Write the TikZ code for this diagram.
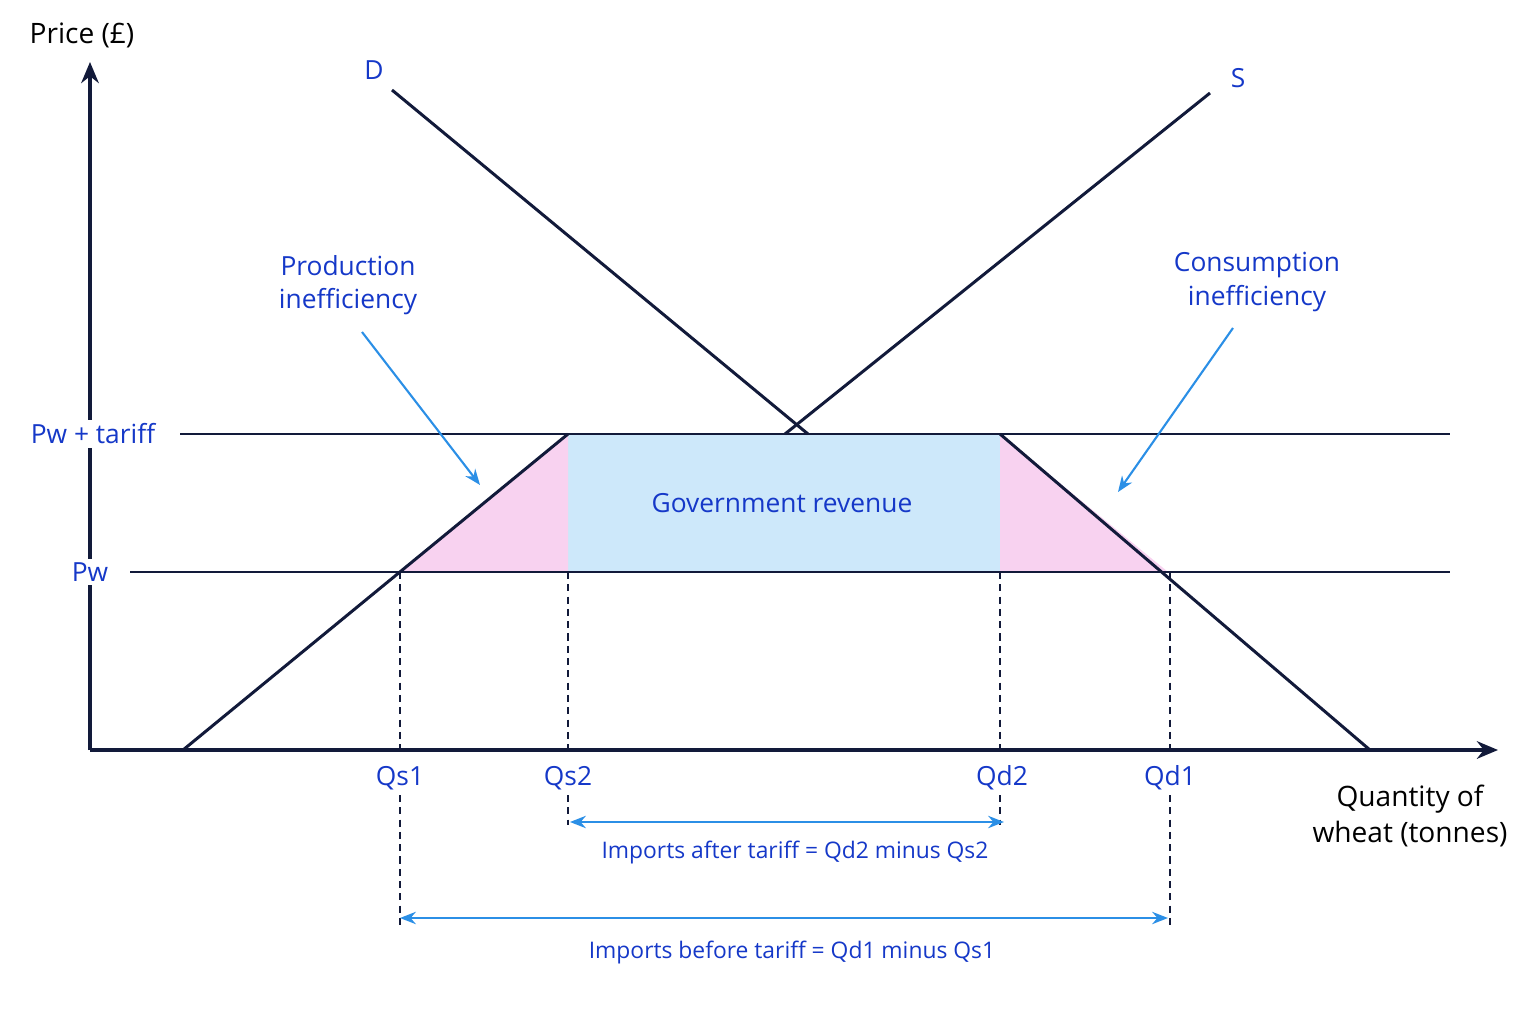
\documentclass[tikz,border=0pt]{standalone}
\usepackage{fontspec}
\setmainfont{Open Sans}
\usetikzlibrary{arrows.meta}
\definecolor{navy}{HTML}{121A3A}
\definecolor{lab}{HTML}{1538C8}
\definecolor{arr}{HTML}{2B8FE6}
\definecolor{gov}{HTML}{CDE8FA}
\definecolor{pinkf}{HTML}{F8D2F0}
\begin{document}
\begin{tikzpicture}[x=0.02cm,y=-0.02cm,
  ln/.style={navy,line width=1.7pt},
  dsh/.style={navy,line width=0.8pt,dash pattern=on 4pt off 3pt},
  lbl/.style={text=lab,font=\fontsize{15}{19}\selectfont},
  sm/.style={text=lab,font=\fontsize{13}{16}\selectfont},
  blk/.style={text=black,font=\fontsize{16}{20}\selectfont},
  ar/.style={arr,line width=1.2pt,-{Stealth[length=9pt,width=7pt]}},
  dar/.style={arr,line width=1.3pt,{Stealth[length=9pt,width=7pt]}-{Stealth[length=9pt,width=7pt]}}]
\useasboundingbox (0,0) rectangle (1536,1024);
\fill[gov] (568,434) rectangle (1000,572);
\fill[pinkf] (400,572) -- (568,434) -- (568,572) -- cycle;
\fill[pinkf] (1000,434) -- (1000,572) -- (1168,572) -- cycle;
\coordinate (O) at (90,750); \coordinate (Yt) at (90,62); \coordinate (Xt) at (1498,750);
\draw[ln,line width=2.2pt,-{Stealth[length=12pt,width=10pt]}] (O) -- (Yt);
\draw[ln,line width=2.2pt,-{Stealth[length=12pt,width=10pt]}] (O) -- (Xt);
\coordinate (pt1) at (180,434); \coordinate (pt2) at (1450,434);
\coordinate (pw1) at (130,572); \coordinate (pw2) at (1450,572);
\draw[ln] (pt1) -- (pt2);
\draw[ln] (pw1) -- (pw2);
\coordinate (s0) at (183,750); \coordinate (s1) at (568,434);
\coordinate (s2) at (785,434); \coordinate (s3) at (1210,93);
\coordinate (d0) at (392,90); \coordinate (d1) at (808,434);
\coordinate (d2) at (1000,434); \coordinate (d3) at (1370,750);
\draw[ln] (s0) -- (s1); \draw[ln] (s2) -- (s3);
\draw[ln] (d0) -- (d1); \draw[ln] (d2) -- (d3);
\foreach \x/\b in {400/925,568/825,1000/825,1170/925}{
  \draw[dsh] (\x,572) -- (\x,750);
  \draw[dsh] (\x,795) -- (\x,\b);}
\node[blk] (price) at (82,35) {Price (£)};
\node[blk,align=center] (qty) at (1410,816) {Quantity of\\wheat (tonnes)};
\node[lbl] (D) at (374,70) {D};
\node[lbl] (S) at (1238,78) {S};
\node[lbl,fill=white,inner sep=2pt] (pwt) at (93,434) {Pw + tariff};
\node[lbl,fill=white,inner sep=2pt] (pw) at (90,572) {Pw};
\node[lbl] (qs1) at (400,778) {Qs1};
\node[lbl] (qs2) at (568,778) {Qs2};
\node[lbl] (qd2) at (1002,778) {Qd2};
\node[lbl] (qd1) at (1170,778) {Qd1};
\node[lbl] (gr) at (782,503) {Government revenue};
\node[lbl,align=center] (pi) at (348,285) {Production\\inefficiency};
\node[lbl,align=center] (ci) at (1257,282) {Consumption\\inefficiency};
\coordinate (pa) at (362,332); \coordinate (pb) at (480,485);
\coordinate (ca) at (1233,328); \coordinate (cb) at (1118,492);
\draw[ar] (pa) -- (pb);
\draw[ar] (ca) -- (cb);
\coordinate (a1) at (570,822); \coordinate (a2) at (1004,822);
\coordinate (b1) at (400,918); \coordinate (b2) at (1168,918);
\draw[dar] (a1) -- (a2);
\draw[dar] (b1) -- (b2);
\node[sm] (ia) at (795,853) {Imports after tariff = Qd2 minus Qs2};
\node[sm] (ib) at (792,952) {Imports before tariff = Qd1 minus Qs1};
\end{tikzpicture}
\end{document}
